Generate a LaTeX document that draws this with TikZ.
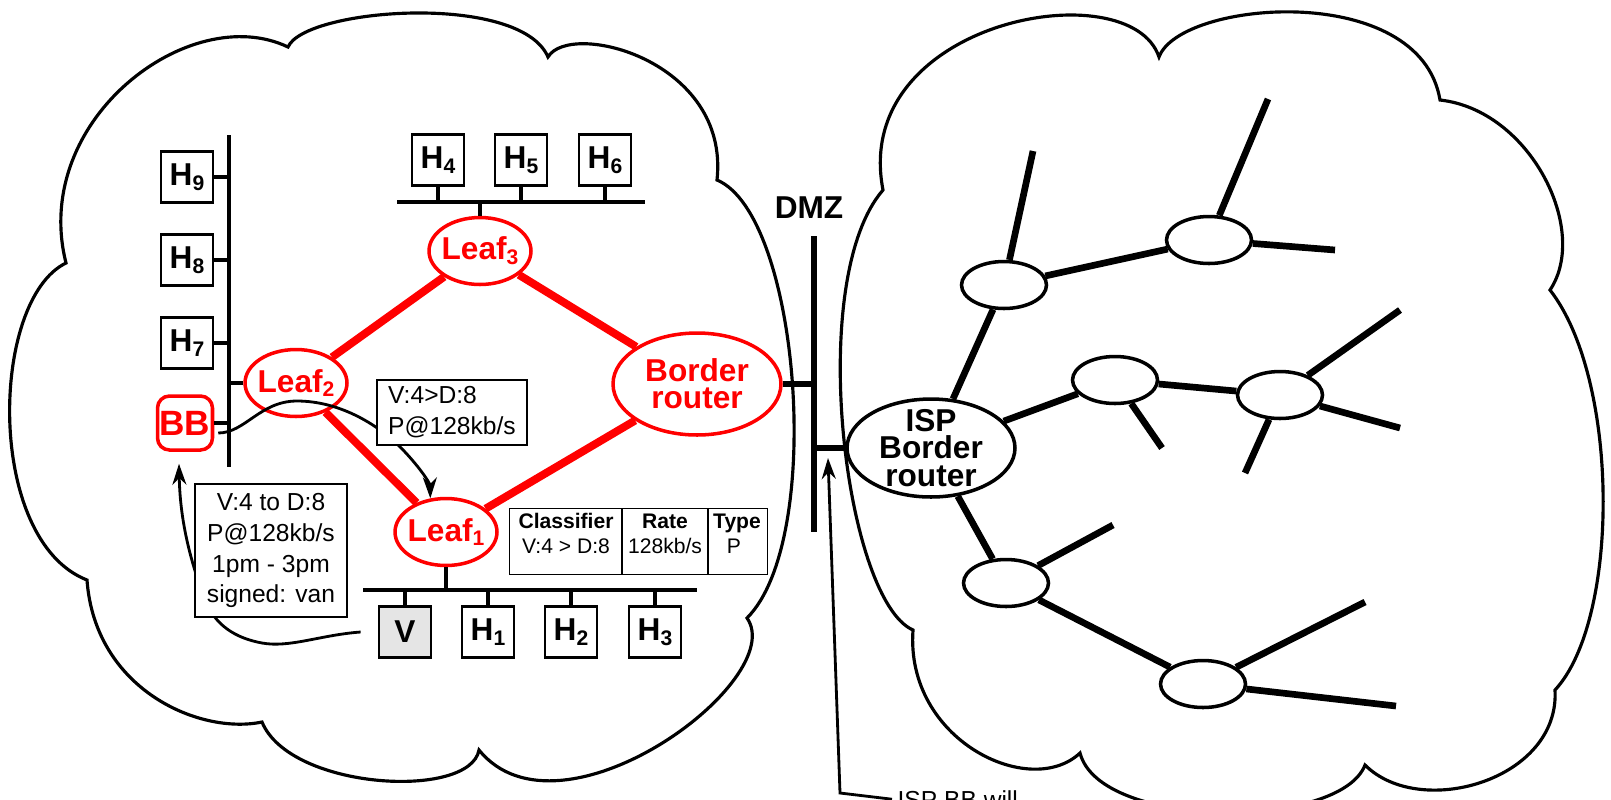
\documentclass[tikz,border=0pt]{standalone}
\usepackage{fontspec}
\setmainfont{Liberation Sans}
\usetikzlibrary{arrows.meta, shapes.geometric}

\newcommand{\hsub}[1]{\raisebox{-2.8pt}{\fontsize{12}{12}\selectfont #1}}

\begin{document}
\begin{tikzpicture}[x=0.02cm, y=-0.02cm,
	host/.style={draw, line width=1.6pt, minimum width=1.04cm, minimum height=1.03cm, inner sep=0pt, font=\fontsize{18}{16}\selectfont\bfseries},
	leaf/.style={ellipse, draw=red, line width=2pt, text=red, minimum width=2.04cm, minimum height=1.34cm, inner xsep=-0.1cm, inner ysep=0pt, font=\fontsize{18}{16}\selectfont\bfseries},
	router/.style={ellipse, draw, line width=2pt, inner sep=0pt, align=center, font=\fontsize{18}{15.5}\selectfont\bfseries},
	hop/.style={ellipse, draw, line width=2pt, minimum width=1.7cm, minimum height=0.94cm, inner sep=0pt},
	bus/.style={line width=2.8pt},
	link/.style={red, line width=4.5pt},
	wire/.style={line width=3.8pt},
	msg/.style={draw, fill=white, line width=0.8pt, font=\fontsize{14}{17.6}\selectfont},
	cell/.style={anchor=base, inner sep=0pt, font=\fontsize{12}{14}\selectfont},
	cloud/.style={line width=1.8pt},
	signal/.style={line width=1.6pt, -{Stealth[length=0.42cm, width=0.28cm]}}]
	\useasboundingbox (0,0) rectangle (1611,799);

	% Clouds
	\draw[cloud] (288,47) .. controls (305,8) and (520,-8) .. (548,57)
		.. controls (570,20) and (730,60) .. (717,180)
		.. controls (800,215) and (825,540) .. (747,618)
		.. controls (790,680) and (560,850) .. (479,750)
		.. controls (470,800) and (290,790) .. (262,722)
		.. controls (200,735) and (95,690) .. (87,580)
		.. controls (-15,540) and (-10,300) .. (66,263)
		.. controls (30,120) and (190,0) .. cycle;
	\draw[cloud] (883,190) .. controls (850,20) and (1130,-30) .. (1159,57)
		.. controls (1180,0) and (1420,-20) .. (1440,100)
		.. controls (1530,110) and (1590,230) .. (1550,290)
		.. controls (1620,380) and (1620,620) .. (1555,690)
		.. controls (1560,780) and (1420,820) .. (1365,765)
		.. controls (1340,830) and (1100,830) .. (1080,753)
		.. controls (1030,800) and (905,740) .. (913,630)
		.. controls (845,600) and (805,280) .. cycle;

	% West LAN
	\coordinate (westtop) at (229,135);
	\coordinate (westbot) at (229,467);
	\draw[bus] (westtop) -- (westbot);
	\node[host] (h9) at (187,177) {H\hsub{9}};
	\node[host] (h8) at (187,260) {H\hsub{8}};
	\node[host] (h7) at (187,343) {H\hsub{7}};
	\node[draw=red, text=red, line width=2pt, rounded corners=0.24cm, minimum width=1.1cm, minimum height=1.08cm, inner sep=0pt, font=\fontsize{20}{16}\selectfont\bfseries] (bb) at (185,423) {BB};
	\foreach \h in {h9, h8, h7, bb}
		\draw[bus] (\h.east) -- (\h.east -| westtop);

	% North LAN
	\coordinate (northleft) at (397,202);
	\coordinate (northright) at (645,202);
	\draw[bus] (northleft) -- (northright);
	\node[host] (h4) at (438,160) {H\hsub{4}};
	\node[host] (h5) at (521,160) {H\hsub{5}};
	\node[host] (h6) at (605,160) {H\hsub{6}};
	\foreach \h in {h4, h5, h6}
		\draw[bus] (\h.south) -- (\h.south |- northleft);

	% South LAN
	\coordinate (southleft) at (363,590);
	\coordinate (southright) at (697,590);
	\draw[bus] (southleft) -- (southright);
	\node[host, fill=black!10] (v) at (405,632) {V};
	\node[host] (h1) at (488,632) {H\hsub{1}};
	\node[host] (h2) at (571,632) {H\hsub{2}};
	\node[host] (h3) at (655,632) {H\hsub{3}};
	\foreach \h in {v, h1, h2, h3}
		\draw[bus] (\h.north) -- (\h.north |- southleft);

	% Leaf routers
	\node[leaf] (leaf3) at (480,251) {Leaf\hsub{3}};
	\node[leaf] (leaf2) at (296,383) {Leaf\hsub{2}};
	\node[leaf] (leaf1) at (446,532) {Leaf\hsub{1}};
	\node[router, draw=red, text=red, minimum width=3.36cm, minimum height=2.04cm] (br) at (697,384) {Border\\router};
	\draw[bus] (leaf3.north) -- (leaf3.north |- northleft);
	\draw[bus] (leaf2.west) -- (leaf2.west -| westtop);
	\draw[bus] (leaf1.south) -- (leaf1.south |- southleft);
	\draw[link] (leaf3) -- (leaf2);
	\draw[link] (leaf3) -- (br);
	\draw[link] (leaf2) -- (leaf1);
	\draw[link] (leaf1) -- (br);

	% Classifier table
	\node[draw, line width=0.8pt, anchor=north west, minimum width=5.16cm, minimum height=1.32cm, inner sep=0pt] (tbl) at (509,508) {};
	\draw[line width=0.8pt] (622,0 |- tbl.north) -- (622,0 |- tbl.south);
	\draw[line width=0.8pt] (708,0 |- tbl.north) -- (708,0 |- tbl.south);
	\node[cell, font=\fontsize{12}{14}\selectfont\bfseries] (cls) at (566,528) {Classifier};
	\node[cell] (clsval) at (566,553) {V:4 > D:8};
	\node[cell, font=\fontsize{12}{14}\selectfont\bfseries] (rate) at (665,528) {Rate};
	\node[cell] (rateval) at (665,553) {128kb/s};
	\node[cell, font=\fontsize{12}{14}\selectfont\bfseries] (type) at (737,528) {Type};
	\node[cell] (typeval) at (734,553) {P};

	% Signalling
	\draw[signal] ([shift={(4,10)}]bb.east) .. controls (245,433) and (260,401) .. (297,401)
		.. controls (340,401) and (380,425) .. (405,452)
		.. controls (420,468) and (430,483) .. (leaf1.115);
	\draw[signal] ([shift={(-17,0)}]v.west) .. controls (320,635) and (290,648) .. (262,643)
		.. controls (235,638) and (215,625) .. (205,600)
		.. controls (190,560) and (180,520) .. ([shift={(-6,12)}]bb.south);
	\node[msg, align=left, minimum width=3cm, minimum height=1.3cm] (note1) at (452,412.5) {V:4>D:8\\P@128kb/s};
	\node[msg, align=center, minimum width=3.04cm, minimum height=2.66cm] (note2) at (271,550.5) {V:4 to D:8\\P@128kb/s\\1pm - 3pm\\signed: van};

	% DMZ
	\node[font=\fontsize{18}{16}\selectfont\bfseries] (dmz) at (809,207.5) {DMZ};
	\coordinate (dmztop) at (814,236);
	\coordinate (dmzbot) at (814,532);
	\draw[wire] (dmztop) -- (dmzbot);
	\node[router, minimum width=3.36cm, minimum height=1.96cm, inner ysep=-0.1cm] (isp) at (931,448) {ISP\\Border\\router};
	\draw[wire] (br.east) -- (br.east -| dmztop);
	\draw[wire] (isp.west) -- (isp.west -| dmztop);

	% ISP network
	\node[hop] (ra) at (1004,285) {};
	\node[hop] (rb) at (1209,240) {};
	\node[hop] (rc) at (1115,380) {};
	\node[hop] (rd) at (1280,395) {};
	\node[hop] (re) at (1006,583) {};
	\node[hop] (rf) at (1203,684) {};
	\coordinate (raup) at (1033,151);
	\coordinate (rbup) at (1268,99);
	\coordinate (rbend) at (1335,250);
	\coordinate (rcstub) at (1162,448);
	\coordinate (rdleft) at (1245,473);
	\coordinate (rdup) at (1400,310);
	\coordinate (rdend) at (1400,428);
	\coordinate (reup) at (1113,525);
	\coordinate (rfup) at (1365,602);
	\coordinate (rfend) at (1396,706);
	\draw[wire] (isp) -- (ra);
	\draw[wire] (ra) -- (raup);
	\draw[wire] (ra) -- (rb);
	\draw[wire] (rb) -- (rbup);
	\draw[wire] (rb) -- (rbend);
	\draw[wire] (isp) -- (rc);
	\draw[wire] (rc) -- (rcstub);
	\draw[wire] (rc) -- (rd);
	\draw[wire] (rd) -- (rdleft);
	\draw[wire] (rd) -- (rdup);
	\draw[wire] (rd) -- (rdend);
	\draw[wire] (isp) -- (re);
	\draw[wire] (re) -- (reup);
	\draw[wire] (re) -- (rf);
	\draw[wire] (rf) -- (rfup);
	\draw[wire] (rf) -- (rfend);

	% ISP BB note
	\node[anchor=base west, inner sep=3pt, font=\fontsize{14}{17}\selectfont] (ispbb) at (892,808) {ISP BB will};
	\coordinate (bend) at (840,793);
	\coordinate (isptip) at (828,458);
	\draw[signal] (ispbb.west) -- (bend) -- (isptip);
\end{tikzpicture}
\end{document}
